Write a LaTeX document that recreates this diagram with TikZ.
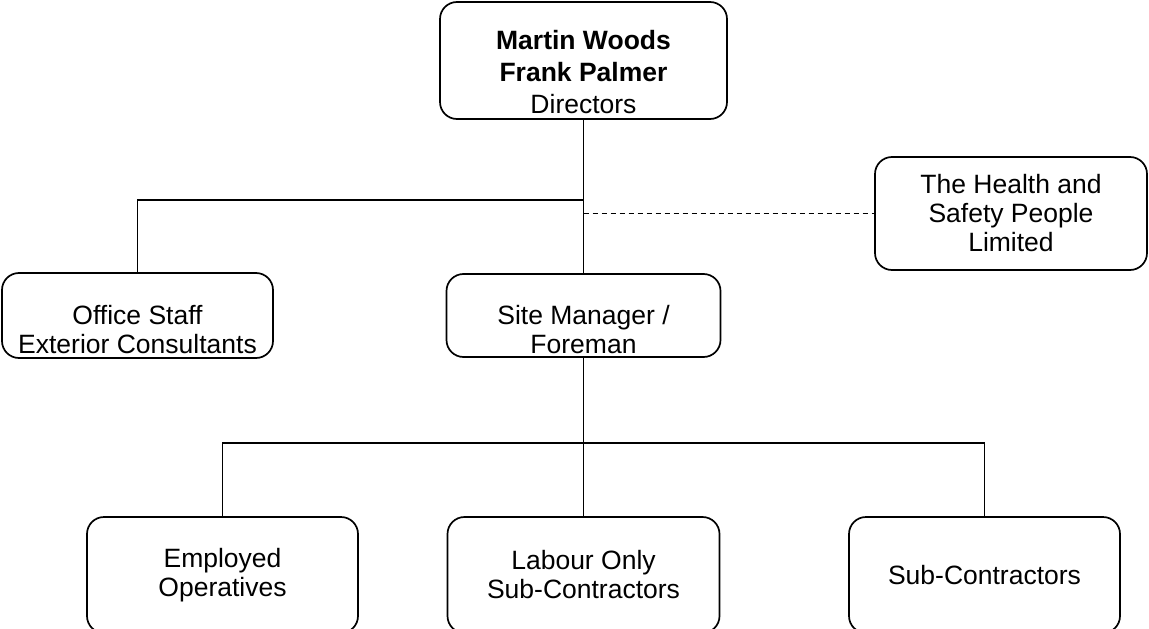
\documentclass[tikz,border=0pt]{standalone}
\usepackage{fontspec}
\setmainfont{Liberation Sans}
\usepackage{tikz}
\usepackage{xcolor}
\definecolor{traitnoir}{RGB}{0, 0, 0}
\newcommand{\textdrop}[1]{\rule{0pt}{#1}}

\tikzset{
  roundbox/.style={draw=traitnoir, line width=1.7pt, rounded corners=17pt,
    align=center, inner sep=0pt, text=traitnoir,
    font=\fontsize{26.5}{29}\selectfont},
  linkline/.style={draw=traitnoir, line width=1.7pt},
}

\begin{document}
\begin{tikzpicture}[x=1pt, y=-1pt]
  \useasboundingbox (0,0) rectangle (1149,629);
  \clip (0,0) rectangle (1149,629);

  % top level
  \node[roundbox, minimum width=287pt, minimum height=117pt] (directors) at (583.5,60.5)
    {\textdrop{42pt}\bfseries Martin Woods\\[3pt] \bfseries Frank Palmer\\[3pt] Directors};

  % second level
  \node[roundbox, minimum width=271pt, minimum height=85pt] (office) at (137.5,315.5)
    {\textdrop{48pt}Office Staff\\ Exterior Consultants};
  \node[roundbox, minimum width=274pt, minimum height=83pt] (site) at (583.5,315.5)
    {\textdrop{48pt}Site Manager /\\ Foreman};
  \node[roundbox, minimum width=272pt, minimum height=113pt] (hs) at (1011,213.5)
    {The Health and\\ Safety People\\ Limited};

  % third level
  \node[roundbox, minimum width=271pt, minimum height=116pt] (employed) at (222.5,575)
    {Employed\\ Operatives};
  \node[roundbox, minimum width=272pt, minimum height=116pt] (labour) at (583.5,575)
    {Labour Only\\ Sub-Contractors};
  \node[roundbox, minimum width=271pt, minimum height=116pt] (subcon) at (984.5,575)
    {Sub-Contractors};

  \coordinate (split) at (583.5,200);
  \coordinate (branch) at (583.5,443);

  % connectors
  \draw[linkline] (directors.south) -- (site.north);
  \draw[linkline] (office.north) |- (split);
  \draw[linkline, dash pattern=on 5pt off 4pt, line width=1.4pt] (site.north |- hs.west) -- (hs.west);
  \draw[linkline] (site.south) -- (branch);
  \draw[linkline] (employed.north) |- (branch);
  \draw[linkline] (labour.north) -- (branch);
  \draw[linkline] (subcon.north) |- (branch);
\end{tikzpicture}
\end{document}
